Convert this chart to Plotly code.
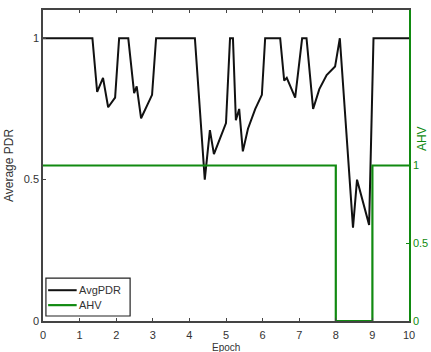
import plotly.graph_objects as go

# AvgPDR series (epoch, value)
pdr_epoch = [0, 1.35, 1.48, 1.64, 1.78, 1.97, 2.08, 2.33, 2.49, 2.56, 2.68, 2.98, 3.09, 4.15,
             4.42, 4.56, 4.67, 5.0, 5.11, 5.19, 5.27, 5.36, 5.46, 5.6, 5.8, 5.98, 6.07, 6.48,
             6.59, 6.66, 6.89, 7.08, 7.2, 7.38, 7.55, 7.75, 7.98, 8.11, 8.47, 8.58, 8.91,
             9.03, 10]
pdr_value = [1, 1, 0.81, 0.86, 0.756, 0.79, 1, 1, 0.806, 0.83, 0.717, 0.80, 1, 1,
             0.5, 0.675, 0.59, 0.70, 1, 1, 0.71, 0.75, 0.60, 0.68, 0.75, 0.80, 1, 1,
             0.85, 0.86, 0.79, 1, 1, 0.75, 0.82, 0.87, 0.90, 1, 0.33, 0.5, 0.34,
             1, 1]

# AHV series (step)
ahv_epoch = [0, 8, 8, 9, 9, 10]
ahv_value = [1, 1, 0, 0, 1, 1]

x_ticks = list(range(0, 11))
left_ticks = [0, 0.5, 1]
right_ticks = [0, 0.5, 1]
legend_names = ["AvgPDR", "AHV"]

BLACK = "#111111"
GREEN = "#118a11"
FONT = "Liberation Sans, Arial, sans-serif"

fig = go.Figure()
fig.add_trace(go.Scatter(x=pdr_epoch, y=pdr_value, mode="lines", name=legend_names[0],
                         line=dict(color=BLACK, width=2)))
fig.add_trace(go.Scatter(x=ahv_epoch, y=ahv_value, mode="lines", name=legend_names[1],
                         line=dict(color=GREEN, width=2.2), yaxis="y2"))

# hand-built compact legend box (MATLAB style)
shapes = [
    dict(type="rect", xref="paper", yref="paper", x0=0.008, x1=0.238, y0=0.016, y1=0.138,
         line=dict(color="#222222", width=1.2), fillcolor="white", layer="above"),
    dict(type="line", xref="paper", yref="paper", x0=0.014, x1=0.092, y0=0.099, y1=0.099,
         line=dict(color=BLACK, width=2), layer="above"),
    dict(type="line", xref="paper", yref="paper", x0=0.014, x1=0.092, y0=0.051, y1=0.051,
         line=dict(color=GREEN, width=2.2), layer="above"),
]
annotations = [
    dict(text=legend_names[0], x=0.094, y=0.099, xref="paper", yref="paper",
         xanchor="left", yanchor="middle", showarrow=False,
         font=dict(size=11, color="#333333", family=FONT)),
    dict(text=legend_names[1], x=0.094, y=0.051, xref="paper", yref="paper",
         xanchor="left", yanchor="middle", showarrow=False,
         font=dict(size=11, color="#333333", family=FONT)),
    dict(text="AHV", x=1, y=0.585, xref="paper", yref="paper",
         xanchor="center", yanchor="middle", xshift=13, textangle=-90,
         showarrow=False, font=dict(size=12, color=GREEN, family=FONT)),
    dict(text="Epoch", x=0.5, y=0, xref="paper", yref="paper",
         xanchor="center", yanchor="top", yshift=-19, showarrow=False,
         font=dict(size=10, color="#333333", family=FONT)),
]

fig.update_layout(
    width=431, height=352,
    margin=dict(l=43, r=22, t=10, b=31),
    paper_bgcolor="white", plot_bgcolor="white",
    font=dict(family=FONT, size=11, color="#333333"),
    showlegend=False,
    shapes=shapes,
    annotations=annotations,
    xaxis=dict(range=[0, 10], tickvals=x_ticks, ticks="inside", ticklen=3,
               showline=True, linecolor="#444444", linewidth=1.5, mirror="ticks",
               showgrid=False, zeroline=False, ticklabelstandoff=3, automargin=False),
    yaxis=dict(range=[0, 1.1], tickvals=left_ticks, ticktext=["0", "0.5", "1"],
               ticks="inside", ticklen=3, showline=True, linecolor="#444444",
               linewidth=1.5, showgrid=False, zeroline=False, automargin=False,
               title=dict(text="Average PDR", standoff=8, font=dict(size=12))),
    yaxis2=dict(range=[0, 2], tickvals=right_ticks, ticktext=["0", "0.5", "1"],
                overlaying="y", side="right", ticks="inside", ticklen=3,
                showline=True, linecolor=GREEN, linewidth=1.5, showgrid=False,
                zeroline=False, tickfont=dict(color=GREEN), tickcolor=GREEN,
                automargin=False),
)

fig.write_html("out.html")
